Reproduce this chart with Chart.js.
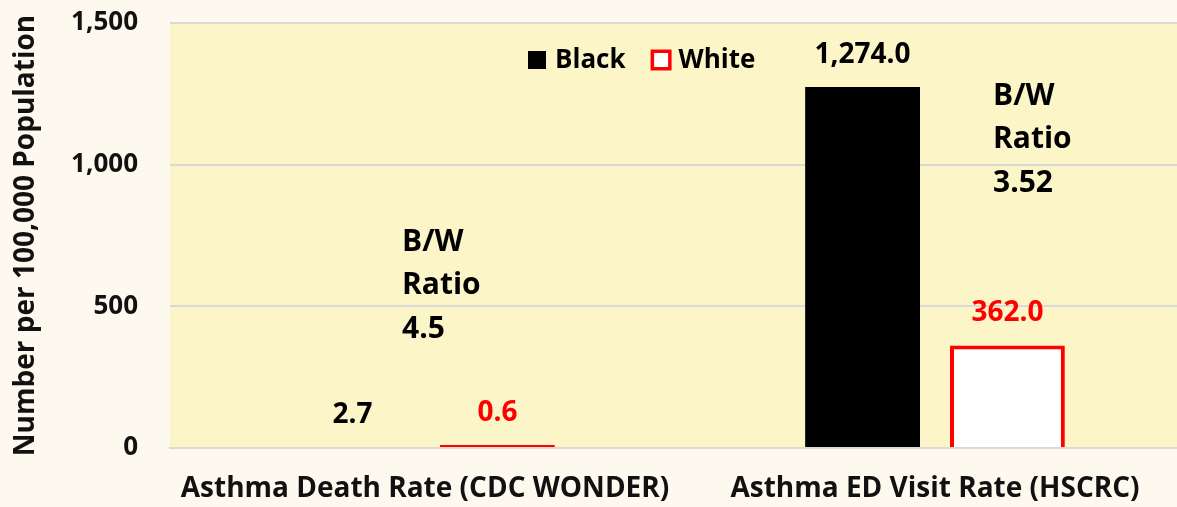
<!DOCTYPE html>
<html><head><meta charset="utf-8">
<script src="https://cdn.jsdelivr.net/npm/chart.js@4.4.1/dist/chart.umd.min.js"></script>
<style>
html,body{margin:0;padding:0;background:#FDF9EE;overflow:hidden;}
canvas{display:block;}
</style></head>
<body>
<canvas id="c" width="1190" height="507"></canvas>
<script>
const categories = ["Asthma Death Rate (CDC WONDER)", "Asthma ED Visit Rate (HSCRC)"];
const seriesNames = ["Black", "White"];
const blackValues = [2.7, 1274.0];
const whiteValues = [0.6, 362.0];
const ratioLabels = ["4.5", "3.52"];
const yAxisTitle = "Number per 100,000 Population";
const yMin = 0, yMax = 1500, yStep = 500;

const FONT = "'Open Sans', sans-serif";
const RED = "#FF0000";

const bgPlugin = {
  id: 'bg',
  beforeDraw(chart) {
    const {ctx, chartArea: a} = chart;
    ctx.save();
    ctx.fillStyle = '#FDF9EE';
    ctx.fillRect(0, 0, chart.width, chart.height);
    ctx.fillStyle = '#FCF5C8';
    ctx.fillRect(a.left, a.top, a.right - a.left, a.bottom - a.top);
    ctx.restore();
  }
};

const valueLabelPlugin = {
  id: 'valueLabels',
  afterDatasetsDraw(chart) {
    const ctx = chart.ctx;
    ctx.save();
    ctx.font = `bold 28px ${FONT}`;
    ctx.textAlign = 'center';
    ctx.textBaseline = 'middle';
    chart.data.datasets.forEach((ds, di) => {
      const meta = chart.getDatasetMeta(di);
      ctx.fillStyle = ds.labelColor;
      meta.data.forEach((bar, i) => {
        const v = ds.data[i];
        const txt = v.toLocaleString('en-US', {minimumFractionDigits: 1, maximumFractionDigits: 1});
        const top = Math.min(bar.y, bar.base);
        ctx.fillText(txt, bar.x, top - 32);
      });
    });
    ctx.restore();
  }
};

const ratioPlugin = {
  id: 'ratio',
  afterDatasetsDraw(chart, args, opts) {
    const ctx = chart.ctx;
    const xs = chart.scales.x, ys = chart.scales.y;
    ctx.save();
    ctx.font = `bold 30px ${FONT}`;
    ctx.fillStyle = '#000';
    ctx.textAlign = 'left';
    ctx.textBaseline = 'alphabetic';
    ratioLabels.forEach((r, i) => {
      const x = xs.getPixelForValue(i) + opts.dx[i];
      const y0 = ys.getPixelForValue(opts.topValue[i]);
      const lines = ['B/W', 'Ratio', r];
      lines.forEach((ln, k) => ctx.fillText(ln, x, y0 + 21 + k * 43.5));
    });
    ctx.restore();
  }
};

const legendPlugin = {
  id: 'customLegend',
  afterDraw(chart, args, opts) {
    const ctx = chart.ctx;
    const a = chart.chartArea;
    const y = a.top + 37;
    ctx.save();
    ctx.font = `bold 26px ${FONT}`;
    ctx.textBaseline = 'middle';
    ctx.textAlign = 'left';
    let x = a.left + opts.x;
    chart.data.datasets.forEach((ds, di) => {
      if (ds.borderWidth) {
        const s = 21;
        ctx.fillStyle = ds.backgroundColor;
        ctx.fillRect(x, y - s / 2, s, s);
        ctx.strokeStyle = ds.borderColor;
        ctx.lineWidth = 3.5;
        ctx.strokeRect(x + 1.75, y - s / 2 + 1.75, s - 3.5, s - 3.5);
        ctx.fillStyle = '#000';
        ctx.fillText(ds.label, x + s + 7, y + 1);
        x += s + 7 + ctx.measureText(ds.label).width + 25;
      } else {
        const s = 18;
        ctx.fillStyle = ds.backgroundColor;
        ctx.fillRect(x, y - s / 2, s, s);
        ctx.fillStyle = '#000';
        ctx.fillText(ds.label, x + s + 9, y + 1);
        x += s + 9 + ctx.measureText(ds.label).width + 25;
      }
    });
    ctx.restore();
  }
};

new Chart(document.getElementById('c'), {
  type: 'bar',
  data: {
    labels: categories,
    datasets: [
      {
        label: seriesNames[0],
        data: blackValues,
        backgroundColor: '#000000',
        borderWidth: 0,
        labelColor: '#000000',
        barPercentage: 0.793,
        categoryPercentage: 0.568
      },
      {
        label: seriesNames[1],
        data: whiteValues,
        backgroundColor: '#FFFFFF',
        borderColor: RED,
        borderWidth: 4,
        minBarLength: 3,
        borderSkipped: c => (Math.abs(c.raw) < 5 ? false : 'start'),
        labelColor: RED,
        barPercentage: 0.793,
        categoryPercentage: 0.568
      }
    ]
  },
  options: {
    responsive: false,
    animation: false,
    devicePixelRatio: 1,
    layout: { padding: { top: 23, right: 0, bottom: 0, left: 0 } },
    plugins: {
      legend: { display: false },
      tooltip: { enabled: false },
      customLegend: { x: 358 },
      ratio: { dx: [-23, 58], topValue: [771, 1285] }
    },
    scales: {
      x: {
        grid: { display: false, drawTicks: false },
        border: { display: true, color: '#D9D9D9', width: 2, z: 1 },
        ticks: { color: '#111', font: { family: FONT, size: 28, weight: 'bold' }, padding: 24, maxRotation: 0, autoSkip: false },
        afterFit(s) { s.height = 59; s.paddingLeft = 0; s.paddingRight = 0; }
      },
      y: {
        min: yMin, max: yMax,
        grid: { color: '#D9D9D9', lineWidth: 2, drawTicks: false },
        border: { display: false },
        ticks: {
          stepSize: yStep,
          color: '#111',
          padding: 32,
          font: { family: FONT, size: 26, weight: 'bold' },
          callback: v => v.toLocaleString('en-US')
        },
        title: {
          display: true, text: yAxisTitle, color: '#111',
          font: { family: FONT, size: 28, weight: 'bold' },
          padding: { top: 9, bottom: 0 }
        },
        afterFit(s) { s.width = 170; s.paddingTop = 0; s.paddingBottom = 0; }
      }
    }
  },
  plugins: [bgPlugin, valueLabelPlugin, ratioPlugin, legendPlugin]
});
</script>
</body></html>
